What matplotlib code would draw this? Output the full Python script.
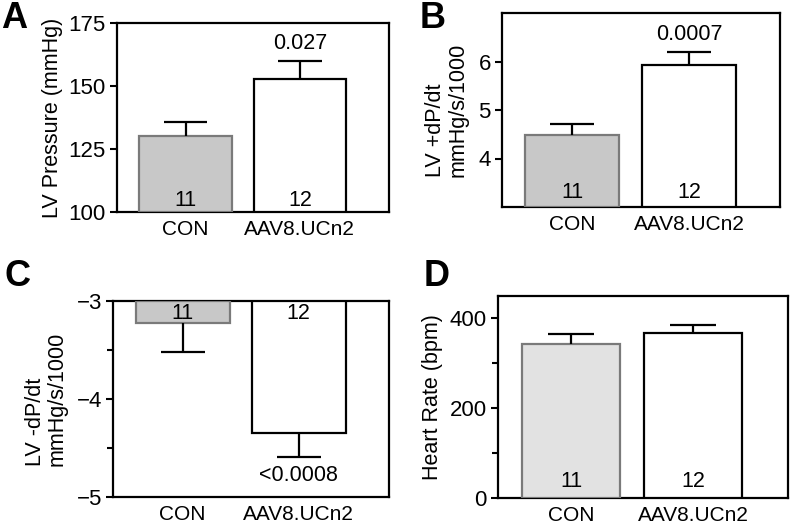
import numpy as np
import matplotlib
matplotlib.use("Agg")
import matplotlib.pyplot as plt

plt.rcParams['font.family'] = ['Liberation Sans', 'DejaVu Sans']

groups = ['CON', 'AAV8.UCn2']
n_animals = ['11', '12']

lv_pressure = [130.2, 152.8]
lv_pressure_sem = [5.6, 7.2]

dpdt_max = [4.48, 5.93]
dpdt_max_sem = [0.23, 0.27]

dpdt_min = [-3.225, -4.35]
dpdt_min_sem = [0.295, 0.24]

heart_rate = [342, 367]
heart_rate_sem = [23, 18]

p_labels = ['0.027', '0.0007', '<0.0008', None]

W, H = 795, 529
fig = plt.figure(figsize=(W / 100, H / 100), dpi=100)


def px_axes(left, top, right, bottom):
  return fig.add_axes([left / W, 1 - bottom / H, (right - left) / W, (bottom - top) / H])


def draw_panel(ax, values, sems, base, ylim, yticks, minor, con_color, ylabel,
               label_x, n_y, p_text=None, p_y=None, down=False):
  x = np.arange(len(groups))
  heights = np.array(values) - base
  ax.bar(x, heights, bottom=base, width=0.81, color=[con_color, 'white'],
         edgecolor=['#7a7a7a', 'black'], linewidth=1.6, zorder=3)
  sign = -1 if down else 1
  for xi, v, s in zip(x, values, sems):
    ax.vlines(xi, v, v + sign * s, color='black', linewidth=1.6, zorder=4)
    ax.hlines(v + sign * s, xi - 0.19, xi + 0.19, color='black', linewidth=1.6, zorder=4)
  for xi, t in zip(x, n_animals):
    ax.text(xi, n_y, t, ha='center', va='center', fontsize=15.5, zorder=5)
  if p_text:
    ax.text(1, p_y, p_text, ha='center', va='center', fontsize=15.5, zorder=5)
  ax.set_xlim(-0.6, 1.78)
  ax.set_ylim(*ylim)
  ax.set_yticks(yticks)
  if minor:
    ax.set_yticks(minor, minor=True)
  ax.set_xticks(x)
  ax.set_xticklabels(groups, fontsize=15)
  ax.tick_params(axis='x', length=0, pad=6)
  ax.tick_params(axis='y', which='major', direction='out', length=5, width=1.5,
                 labelsize=16, pad=3)
  ax.tick_params(axis='y', which='minor', direction='out', length=4, width=1.5)
  for sp in ax.spines.values():
    sp.set_linewidth(1.6)
  ax.set_ylabel(ylabel, fontsize=15.5, multialignment='left', linespacing=1.05)
  ax.yaxis.set_label_coords(label_x, 0.5)


axA = px_axes(117, 23, 389, 212)
draw_panel(axA, lv_pressure, lv_pressure_sem, 100, (100, 175), [100, 125, 150, 175], None,
           '#c8c8c8', 'LV Pressure (mmHg)', -0.2, 104.5, p_labels[0], 167)

axB = px_axes(502, 13, 780, 207)
draw_panel(axB, dpdt_max, dpdt_max_sem, 3, (3, 7), [4, 5, 6], None,
           '#c8c8c8', 'LV +dP/dt\nmmHg/s/1000', -0.122, 3.3, p_labels[1], 6.55)

axC = px_axes(113, 301, 389, 497)
draw_panel(axC, dpdt_min, dpdt_min_sem, -3, (-5, -3), [-5, -4, -3], [-3.5, -4.5],
           '#c8c8c8', 'LV -dP/dt\nmmHg/s/1000', -0.163, -3.13, p_labels[2], -4.78, down=True)

axD = px_axes(498, 296, 788, 498)
draw_panel(axD, heart_rate, heart_rate_sem, 0, (0, 450), [0, 200, 400], [100, 300],
           '#e2e2e2', 'Heart Rate (bpm)', -0.19, 37, p_labels[3], None)

for letter, xp, yp in [('A', 14, 18), ('B', 433, 18), ('C', 17, 277), ('D', 437, 277)]:
  fig.text(xp / W, 1 - yp / H, letter, fontsize=26, fontweight='bold',
           ha='center', va='center')

fig.savefig('out.png', dpi=100)
